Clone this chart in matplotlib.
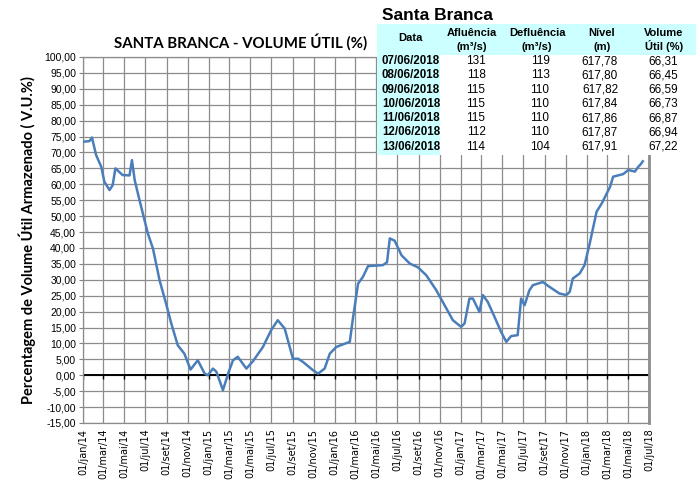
import matplotlib
matplotlib.use("Agg")
import matplotlib.pyplot as plt
import pandas as pd
from matplotlib.patches import Rectangle

# serie de volume util (leitura do grafico)
datas = ["2014-01-01", "2014-01-14", "2014-01-20", "2014-01-27", "2014-02-08", "2014-02-23",
         "2014-03-04", "2014-03-19", "2014-03-28", "2014-04-05", "2014-04-26", "2014-05-16",
         "2014-05-23", "2014-05-31", "2014-06-14", "2014-07-08", "2014-07-23", "2014-08-11",
         "2014-08-30", "2014-09-14", "2014-10-03", "2014-10-22", "2014-11-09", "2014-11-30",
         "2014-12-20", "2014-12-29", "2015-01-13", "2015-01-23", "2015-02-11", "2015-02-26",
         "2015-03-12", "2015-03-26", "2015-04-20", "2015-05-09", "2015-06-07", "2015-07-01",
         "2015-07-20", "2015-08-09", "2015-09-02", "2015-09-17", "2015-10-01", "2015-10-30",
         "2015-11-14", "2015-12-03", "2015-12-18", "2016-01-06", "2016-01-25", "2016-02-14",
         "2016-02-23", "2016-03-09", "2016-03-23", "2016-04-07", "2016-05-20", "2016-06-01",
         "2016-06-09", "2016-06-23", "2016-07-13", "2016-08-06", "2016-08-30", "2016-09-23",
         "2016-10-22", "2016-11-15", "2016-12-09", "2017-01-02", "2017-01-12", "2017-01-26",
         "2017-02-05", "2017-02-24", "2017-03-06", "2017-03-20", "2017-04-09", "2017-04-28",
         "2017-05-13", "2017-05-27", "2017-06-15", "2017-06-25", "2017-07-05", "2017-07-19",
         "2017-07-29", "2017-08-27", "2017-09-15", "2017-10-14", "2017-11-03", "2017-11-13",
         "2017-11-22", "2017-12-12", "2017-12-26", "2018-01-10", "2018-01-30", "2018-02-14",
         "2018-03-10", "2018-03-19", "2018-04-17", "2018-05-02", "2018-05-21", "2018-05-31",
         "2018-06-07", "2018-06-13"]
volume = [73.4, 73.5, 73.6, 74.7, 69.2, 65.5,
          60.8, 58.2, 59.7, 65.0, 62.9, 62.8,
          67.6, 61.3, 55.0, 44.6, 39.8, 29.9,
          22.5, 16.3, 9.4, 6.8, 1.8, 4.7,
          0.5, 0.0, 2.1, 1.1, -4.7, 0.5,
          4.7, 5.8, 2.1, 4.4, 8.9, 14.2,
          17.3, 14.7, 5.2, 5.2, 4.2, 1.6,
          0.5, 2.1, 6.8, 8.9, 9.7, 10.5,
          17.8, 28.8, 30.9, 34.3, 34.6, 35.5,
          43.0, 42.3, 37.7, 35.1, 33.9, 31.4,
          26.7, 22.0, 17.3, 15.2, 16.3, 24.1,
          24.1, 19.9, 25.2, 23.1, 18.3, 13.6,
          10.5, 12.3, 12.6, 24.1, 22.0, 26.7,
          28.3, 29.3, 27.8, 25.7, 25.2, 26.2,
          30.4, 32.0, 34.6, 41.4, 51.4, 54.0,
          59.2, 62.4, 63.2, 64.5, 64.0, 65.5,
          66.31, 67.22]

meses = ["jan", "fev", "mar", "abr", "mai", "jun", "jul", "ago", "set", "out", "nov", "dez"]

# tabela
tab_cab1 = ["Data", "Afluência", "Defluência", "Nível", "Volume"]
tab_cab2 = ["", "(m³/s)", "(m³/s)", "(m)", "Útil (%)"]
tab_datas = ["07/06/2018", "08/06/2018", "09/06/2018", "10/06/2018", "11/06/2018", "12/06/2018", "13/06/2018"]
tab_aflu = ["131", "118", "115", "115", "115", "112", "114"]
tab_deflu = ["119", "113", "110", "110", "110", "110", "104"]
tab_nivel = ["617,78", "617,80", "617,82", "617,84", "617,86", "617,87", "617,91"]
tab_vol = ["66,31", "66,45", "66,59", "66,73", "66,87", "66,94", "67,22"]

W, H = 696, 480
fig = plt.figure(figsize=(W / 100, H / 100), dpi=100)
ax = fig.add_axes([83 / W, 1 - 423 / H, (649 - 83) / W, (423 - 57) / H])

x = pd.to_datetime(datas)
ticks = pd.date_range("2014-01-01", "2018-07-01", freq="2MS")

ax.set_xlim(ticks[0], ticks[-1])
ax.set_ylim(-15, 100)
ax.set_yticks(range(-15, 101, 5))
ax.set_yticklabels([f"{v:.2f}".replace(".", ",") for v in range(-15, 101, 5)],
                   fontsize=7.5, family="Liberation Sans")
ax.set_xticks(ticks)
ax.set_xticklabels([f"01/{meses[t.month - 1]}/{t.year % 100:02d}" for t in ticks],
                   rotation=90, fontsize=7, family="DejaVu Sans")
ax.tick_params(axis="x", length=0, pad=4)
ax.tick_params(axis="y", length=3, color="#808080", pad=2)

ax.grid(True, color="#8c8c8c", lw=0.9)
ax.set_axisbelow(True)
for s in ax.spines.values():
    s.set_color("#8c8c8c")
    s.set_linewidth(0.9)
ax.spines["right"].set_linewidth(2)

# linha do zero com marcas
ax.axhline(0, color="black", lw=1.4, zorder=2)
ax.plot(ticks, [0] * len(ticks), ls="", marker=3, color="black", ms=3, mew=1, zorder=2)

ax.plot(x, volume, color="#4a7ebb", lw=1.8, zorder=3)

ax.set_ylabel("Percentagem de Volume Útil Armazenado ( V.U.%)", family="Lato",
              fontweight="bold", fontsize=10.5, labelpad=6)

fig.text(241 / W, 1 - 42 / H, "SANTA BRANCA - VOLUME ÚTIL (%)", family="Lato",
         fontweight="bold", fontsize=10.8, ha="center", va="center")

# tabela sobre o grafico
def px(xp, yp):
    return xp / W, 1 - yp / H

fig.patches.append(Rectangle(px(377, 155), 319 / W, 131 / H, transform=fig.transFigure,
                             facecolor="white", edgecolor="none", zorder=5))
fig.patches.append(Rectangle(px(377, 55), 319 / W, 31 / H, transform=fig.transFigure,
                             facecolor="#ccffff", edgecolor="none", zorder=6))
fig.patches.append(Rectangle(px(377, 155), 63 / W, 100 / H, transform=fig.transFigure,
                             facecolor="#ccffff", edgecolor="none", zorder=6))

fig.text(*px(382, 15), "Santa Branca", family="Liberation Sans", fontweight="bold",
         fontsize=12.5, ha="left", va="center", zorder=7)

col_x = [410, 472, 537, 602, 664]
for cx, c1, c2 in zip(col_x, tab_cab1, tab_cab2):
    if c2:
        fig.text(*px(cx, 32.5), c1, family="Liberation Sans", fontweight="bold", fontsize=8,
                 ha="center", va="center", zorder=7)
        fig.text(*px(cx, 46.5), c2, family="Liberation Sans", fontweight="bold", fontsize=8,
                 ha="center", va="center", zorder=7)
    else:
        fig.text(*px(cx, 38), c1, family="Liberation Sans", fontweight="bold", fontsize=8,
                 ha="center", va="center", zorder=7)

num_x = [476, 540, 600, 663]
for i in range(len(tab_datas)):
    yy = 61 + i * 14.28
    fig.text(*px(382, yy), tab_datas[i], family="Liberation Sans", fontweight="bold",
             fontsize=8.3, ha="left", va="center", zorder=7)
    for cx, col in zip(num_x, [tab_aflu, tab_deflu, tab_nivel, tab_vol]):
        fig.text(*px(cx, yy), col[i], family="Liberation Sans", fontsize=8.5,
                 ha="center", va="center", zorder=7)

fig.savefig("out.png", dpi=100)
